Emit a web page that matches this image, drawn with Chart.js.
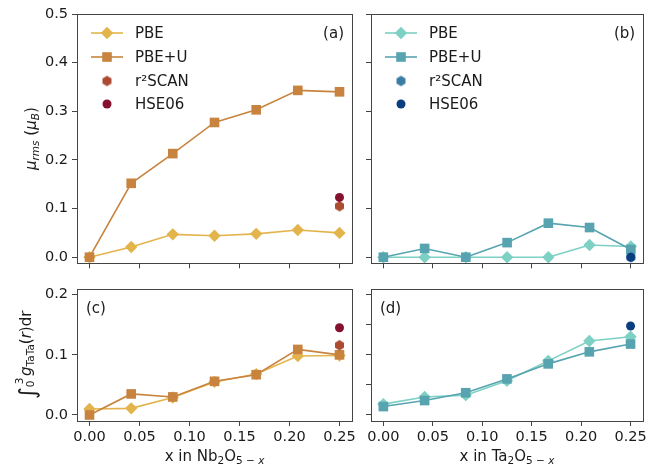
<!DOCTYPE html>
<html>
<head>
<meta charset="utf-8">
<script src="https://cdn.jsdelivr.net/npm/chart.js@4.4.1/dist/chart.umd.min.js"></script>
<style>
  body { margin: 0; background: #fff; width: 650px; height: 468px; position: relative; overflow: hidden; }
  canvas { position: absolute; }
</style>
</head>
<body>
<canvas id="pa" width="360" height="276" style="left:0;top:0"></canvas>
<canvas id="pb" width="290" height="276" style="left:360px;top:0"></canvas>
<canvas id="pc" width="360" height="192" style="left:0;top:276px"></canvas>
<canvas id="pd" width="290" height="192" style="left:360px;top:276px"></canvas>
<script>
// data
const xValues = [0, 0.0417, 0.0833, 0.125, 0.1667, 0.2083, 0.25];
const xTicks = [0, 0.05, 0.1, 0.15, 0.2, 0.25];
const muTicks = [0, 0.1, 0.2, 0.3, 0.4, 0.5];
const gTicksNb = [0, 0.1, 0.2];
const gTicksTa = [0, 0.05, 0.1, 0.15, 0.2];
const seriesNames = ["PBE", "PBE+U", "r²SCAN", "HSE06"];

const muNbPBE = [0.000, 0.021, 0.047, 0.044, 0.048, 0.056, 0.050];
const muNbPBEU = [0.000, 0.152, 0.213, 0.277, 0.303, 0.343, 0.340];
const muNbSCAN = 0.105;
const muNbHSE = 0.123;

const muTaPBE = [0.000, 0.000, 0.000, 0.000, 0.000, 0.025, 0.022];
const muTaPBEU = [0.000, 0.018, 0.000, 0.030, 0.070, 0.061, 0.016];
const muTaSCAN = 0.000;
const muTaHSE = 0.000;

const gNbPBE = [0.010, 0.011, 0.029, 0.055, 0.068, 0.098, 0.099];
const gNbPBEU = [0.000, 0.035, 0.030, 0.056, 0.067, 0.109, 0.100];
const gNbSCAN = 0.116;
const gNbHSE = 0.145;

const gTaPBE = [0.018, 0.030, 0.033, 0.057, 0.090, 0.123, 0.130];
const gTaPBEU = [0.014, 0.024, 0.037, 0.060, 0.085, 0.105, 0.118];
const gTaSCAN = null;
const gTaHSE = 0.148;

const nbColors = ["#e3b44c", "#c8843f", "#ab4b32", "#85112e"];
const taColors = ["#7dd0c3", "#57a4b0", "#3a7da4", "#0b3e80"];

const frameColor = "#444";
const textColor = "#1a1a1a";
const family = '"DejaVu Sans", sans-serif';
const fontSize = 15;
const tickSize = 14.5;

function hexagon(color, r) {
  const c = document.createElement("canvas");
  c.width = c.height = Math.ceil(2 * r + 2);
  const g = c.getContext("2d");
  g.fillStyle = color;
  g.beginPath();
  for (let i = 0; i < 6; i++) {
    const a = Math.PI / 2 + i * Math.PI / 3;
    const px = c.width / 2 + r * Math.cos(a);
    const py = c.height / 2 - r * Math.sin(a);
    i ? g.lineTo(px, py) : g.moveTo(px, py);
  }
  g.closePath();
  g.fill();
  return c;
}

function makeDatasets(colors, pbe, pbeu, scan, hse) {
  const pts = (arr) => arr.map((v, i) => ({ x: xValues[i], y: v }));
  const last = xValues[xValues.length - 1];
  return [
    { label: seriesNames[0], data: pts(pbe), borderColor: colors[0], backgroundColor: colors[0],
      pointStyle: "rectRot", pointRadius: 6.2, pointBorderWidth: 0, borderWidth: 1.6, order: 4, clip: false },
    { label: seriesNames[1], data: pts(pbeu), borderColor: colors[1], backgroundColor: colors[1],
      pointStyle: "rect", pointRadius: 6.8, pointBorderWidth: 0, borderWidth: 1.6, order: 3, clip: false },
    { label: seriesNames[2], data: scan === null ? [] : [{ x: last, y: scan }], showLine: false,
      borderColor: colors[2], backgroundColor: colors[2], pointStyle: hexagon(colors[2], 5.2),
      pointRadius: 5.2, pointBorderWidth: 0, order: 2, clip: false },
    { label: seriesNames[3], data: [{ x: last, y: hse }], showLine: false,
      borderColor: colors[3], backgroundColor: colors[3], pointStyle: "circle",
      pointRadius: 4.5, pointBorderWidth: 0, order: 1, clip: false },
  ];
}

// rich text: sub/superscripts and italics
function richFont(p) {
  let size = fontSize;
  if (p.sub || p.sup) size = fontSize * 0.7;
  if (p.big) size = fontSize * 1.5;
  return (p.it ? "italic " : "") + size + "px " + family;
}
function drawRich(ctx, parts, x, y, rotate) {
  ctx.save();
  ctx.translate(x, y);
  if (rotate) ctx.rotate(-Math.PI / 2);
  let total = 0;
  parts.forEach((p) => {
    ctx.font = richFont(p);
    p.w = ctx.measureText(p.t).width;
    if (!p.stay) total += p.w;
  });
  let cx = -total / 2;
  ctx.fillStyle = textColor;
  ctx.textBaseline = "alphabetic";
  ctx.textAlign = "left";
  parts.forEach((p) => {
    ctx.font = richFont(p);
    let dy = 0;
    if (p.sub) dy = fontSize * 0.22;
    if (p.sup) dy = -fontSize * 0.55;
    if (p.big) dy = fontSize * 0.25;
    ctx.fillText(p.t, cx + (p.dx || 0), dy);
    if (!p.stay) cx += p.w;
  });
  ctx.restore();
}

const muTitle = [{ t: "μ", it: 1 }, { t: "rms", it: 1, sub: 1 }, { t: " (" }, { t: "μ", it: 1 }, { t: "B", it: 1, sub: 1 }, { t: ")" }];
const gTitle = [{ t: "∫", big: 1 }, { t: "3", sup: 1, stay: 1, dx: 3 }, { t: "0", sub: 1 }, { t: " " }, { t: "g", it: 1 },
  { t: "TaTa", sub: 1 }, { t: "(" }, { t: "r", it: 1 }, { t: ")dr" }];
const xTitleNb = [{ t: "x in Nb" }, { t: "2", sub: 1 }, { t: "O" }, { t: "5 − ", sub: 1 }, { t: "x", sub: 1, it: 1 }];
const xTitleTa = [{ t: "x in Ta" }, { t: "2", sub: 1 }, { t: "O" }, { t: "5 − ", sub: 1 }, { t: "x", sub: 1, it: 1 }];

const decorByPanel = {
  pa: { label: "(a)", labelRight: true, legend: true, yTitle: muTitle, yTitleX: 36 },
  pb: { label: "(b)", labelRight: true, legend: true },
  pc: { label: "(c)", labelRight: false, yTitle: gTitle, yTitleX: 31, xTitle: xTitleNb },
  pd: { label: "(d)", labelRight: false, xTitle: xTitleTa },
};

const decorPlugin = {
  id: "decor",
  afterDraw(chart) {
    const d = decorByPanel[chart.canvas.id];
    const { ctx, chartArea: a } = chart;
    ctx.save();
    ctx.strokeStyle = frameColor;
    ctx.lineWidth = 1;
    ctx.strokeRect(Math.round(a.left) + 0.5, Math.round(a.top) + 0.5,
      Math.round(a.right - a.left), Math.round(a.bottom - a.top));

    ctx.fillStyle = textColor;
    ctx.font = fontSize + "px " + family;
    ctx.textBaseline = "middle";
    if (d.labelRight) {
      ctx.textAlign = "right";
      ctx.fillText(d.label, a.right - 8, a.top + 20);
    } else {
      ctx.textAlign = "left";
      ctx.fillText(d.label, a.left + 9, a.top + 20);
    }

    if (d.legend) {
      const rows = [19, 43, 67, 90];
      chart.data.datasets.forEach((ds, i) => {
        const y = a.top + rows[i];
        if (ds.showLine !== false) {
          ctx.strokeStyle = ds.borderColor;
          ctx.lineWidth = ds.borderWidth;
          ctx.beginPath();
          ctx.moveTo(a.left + 14, y);
          ctx.lineTo(a.left + 46, y);
          ctx.stroke();
        }
        ctx.fillStyle = ds.backgroundColor;
        Chart.helpers.drawPoint(ctx, { pointStyle: ds.pointStyle, radius: ds.pointRadius, rotation: 0, borderWidth: 0 }, a.left + 30, y);
        ctx.fillStyle = textColor;
        ctx.font = fontSize + "px " + family;
        ctx.textAlign = "left";
        ctx.textBaseline = "middle";
        ctx.fillText(ds.label, a.left + 58, y + 1);
      });
    }

    if (d.yTitle) drawRich(ctx, d.yTitle, d.yTitleX, (a.top + a.bottom) / 2, true);
    if (d.xTitle) drawRich(ctx, d.xTitle, (a.left + a.right) / 2, chart.height - 7, false);
    ctx.restore();
  },
};

function panel(id, o) {
  const tickFont = { family: family, size: tickSize };
  const grid = { drawOnChartArea: false, drawTicks: true, tickLength: 5, tickColor: frameColor, color: frameColor };
  new Chart(document.getElementById(id), {
    type: "line",
    data: { datasets: o.datasets },
    options: {
      responsive: false,
      animation: false,
      events: [],
      layout: { padding: { top: o.padTop, right: o.padRight, left: 0, bottom: 0 } },
      scales: {
        x: {
          type: "linear", min: -0.0125, max: 0.2625,
          afterBuildTicks: (s) => { s.ticks = xTicks.map((v) => ({ value: v })); },
          afterFit: (s) => { s.height = o.xHeight; },
          grid: grid, border: { display: false },
          ticks: { autoSkip: false, maxRotation: 0, padding: 3, color: textColor, font: tickFont,
            callback: (v) => (o.xLabels ? v.toFixed(2) : "") },
        },
        y: {
          type: "linear", min: o.yMin, max: o.yMax,
          afterBuildTicks: (s) => { s.ticks = o.yTicks.map((v) => ({ value: v })); },
          afterFit: (s) => { s.width = o.yWidth; },
          grid: grid, border: { display: false },
          ticks: { autoSkip: false, padding: 4, color: textColor, font: tickFont,
            callback: (v) => (o.yLabels ? v.toFixed(1) : "") },
        },
      },
      plugins: { legend: { display: false }, tooltip: { enabled: false } },
    },
    plugins: [decorPlugin],
  });
}

panel("pa", { datasets: makeDatasets(nbColors, muNbPBE, muNbPBEU, muNbSCAN, muNbHSE),
  padTop: 14, padRight: 8, xHeight: 7, yWidth: 77, yMin: -0.0125, yMax: 0.5, yTicks: muTicks, xLabels: false, yLabels: true });
panel("pb", { datasets: makeDatasets(taColors, muTaPBE, muTaPBEU, muTaSCAN, muTaHSE),
  padTop: 14, padRight: 4, xHeight: 7, yWidth: 11, yMin: -0.0125, yMax: 0.5, yTicks: muTicks, xLabels: false, yLabels: false });
panel("pc", { datasets: makeDatasets(nbColors, gNbPBE, gNbPBEU, gNbSCAN, gNbHSE),
  padTop: 5, padRight: 8, xHeight: 47, yWidth: 77, yMin: -0.01, yMax: 0.21, yTicks: gTicksNb, xLabels: true, yLabels: true });
panel("pd", { datasets: makeDatasets(taColors, gTaPBE, gTaPBEU, gTaSCAN, gTaHSE),
  padTop: 4, padRight: 4, xHeight: 47, yWidth: 11, yMin: -0.01, yMax: 0.21, yTicks: gTicksTa, xLabels: true, yLabels: false });
</script>
</body>
</html>
